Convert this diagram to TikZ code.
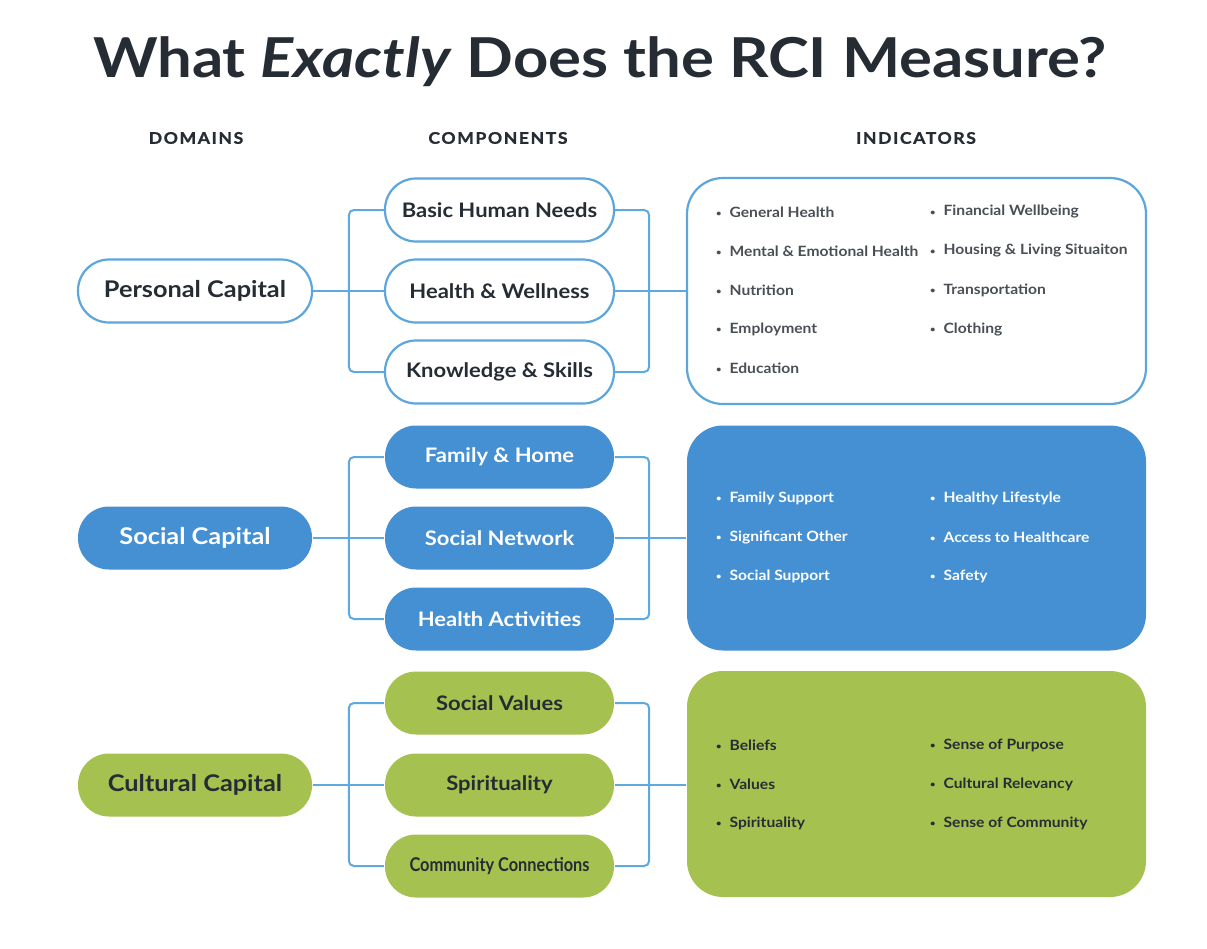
\documentclass[tikz,border=0pt]{standalone}
\usepackage{fontspec}
\setmainfont{Lato}[FakeStretch=1.1]
\newfontfamily\titlefont{Lato}[FakeStretch=1.12]
\newfontfamily\hdrfont{Lato}[LetterSpace=10,FakeStretch=1.1,FakeBold=1.2]
\newfontfamily\condfont{Lato}[FakeStretch=0.86]
\usetikzlibrary{positioning}
\definecolor{ink}{HTML}{262C33}
\definecolor{lblue}{HTML}{5BA6DC}
\definecolor{sblue}{HTML}{4590D3}
\definecolor{cgreen}{HTML}{A5C250}
\definecolor{conn}{HTML}{5EA9E0}
\definecolor{itxt}{HTML}{4A4F55}
\tikzset{
  pill/.style={rectangle, rounded corners=31pt, minimum height=63pt, inner sep=0pt, line width=2.2pt, font=\bfseries},
  dom/.style={pill, minimum width=234pt, font=\fontsize{23}{26}\selectfont\bfseries},
  comp/.style={pill, minimum width=229pt, font=\fontsize{20}{24}\selectfont\bfseries},
  pers/.style={draw=lblue, fill=white, text=ink},
  soc/.style={fill=sblue, text=white},
  cult/.style={fill=cgreen, text=ink},
  indbox/.style={rectangle, rounded corners=36pt, minimum width=459pt, inner sep=0pt, line width=2.2pt},
  item/.style={anchor=west, inner sep=0pt, font=\fontsize{14.2}{17}\selectfont\bfseries},
  hdr/.style={font=\hdrfont\fontsize{16}{18}\selectfont\bfseries, text=ink},
  cline/.style={draw=conn, line width=2pt},
  brk/.style={cline, rounded corners=5pt},
}
\newcommand{\bul}{\raisebox{0.5pt}{\scalebox{0.6}{\textbullet}}\hspace{8pt}}
\begin{document}
\begin{tikzpicture}[x=1pt,y=-1pt]
\useasboundingbox (0,0) rectangle (1207,948);
\fill[white] (0,0) rectangle (1207,948);
% title
\node[font=\titlefont\fontsize{55}{62}\selectfont\bfseries, text=ink] (title) at (600,62) {What \textit{Exactly} Does the RCI Measure?};
\node[hdr] (hd) at (196,138) {DOMAINS};
\node[hdr] (hc) at (498,138) {COMPONENTS};
\node[hdr] (hi) at (916,138) {INDICATORS};
% personal
\node[dom,pers] (pc) at (195,291) {Personal Capital};
\node[comp,pers] (c1) at (499.5,210) {Basic Human Needs};
\node[comp,pers] (c2) at (499.5,291) {Health \& Wellness};
\node[comp,pers] (c3) at (499.5,372) {Knowledge \& Skills};
\node[indbox,draw=lblue,fill=white,minimum height=226pt] (i1) at (916.5,291) {};
% social
\node[dom,soc] (sc) at (195,538) {Social Capital};
\node[comp,soc] (c4) at (499.5,457) {Family \& Home};
\node[comp,soc] (c5) at (499.5,538) {Social Network};
\node[comp,soc] (c6) at (499.5,619) {Health Activities};
\node[indbox,fill=sblue,minimum height=225pt] (i2) at (916.5,538) {};
% cultural
\node[dom,cult] (cc) at (195,785) {Cultural Capital};
\node[comp,cult] (c7) at (499.5,703) {Social Values};
\node[comp,cult] (c8) at (499.5,785) {Spirituality};
\node[comp,cult,font=\condfont\fontsize{19}{22}\selectfont\bfseries] (c9) at (499.5,866) {Community Connections};
\node[indbox,fill=cgreen,minimum height=226pt] (i3) at (916.5,784) {};
% connectors
\foreach \d/\a/\b/\c/\i in {pc/c1/c2/c3/i1, sc/c4/c5/c6/i2, cc/c7/c8/c9/i3}{
  \draw[cline] (\d.east) -- (\b.west);
  \draw[brk] (\a.west) -- ([xshift=-35pt]\a.west) |- (\c.west);
  \draw[cline] (\b.east) -- (\i.west |- \b.east);
  \draw[brk] (\a.east) -- ([xshift=34pt]\a.east) |- (\c.east);
}
% indicators personal
\begin{scope}[every node/.style={item, text=itxt}]
\node (p1) at (716,212) {\bul General Health};
\node (p2) at (716,251) {\bul Mental \& Emotional Health};
\node (p3) at (716,290) {\bul Nutrition};
\node (p4) at (716,329) {\bul Employment};
\node (p5) at (716,368) {\bul Education};
\node (p6) at (930,212) {\bul Financial Wellbeing};
\node (p7) at (930,251) {\bul Housing \& Living Situaiton};
\node (p8) at (930,290) {\bul Transportation};
\node (p9) at (930,329) {\bul Clothing};
\end{scope}
\begin{scope}[every node/.style={item, text=white}]
\node (s1) at (716,498) {\bul Family Support};
\node (s2) at (716,537) {\bul Significant Other};
\node (s3) at (716,576) {\bul Social Support};
\node (s4) at (930,498) {\bul Healthy Lifestyle};
\node (s5) at (930,537) {\bul Access to Healthcare};
\node (s6) at (930,576) {\bul Safety};
\end{scope}
\begin{scope}[every node/.style={item, text=ink}]
\node (g1) at (716,745) {\bul Beliefs};
\node (g2) at (716,784) {\bul Values};
\node (g3) at (716,823) {\bul Spirituality};
\node (g4) at (930,745) {\bul Sense of Purpose};
\node (g5) at (930,784) {\bul Cultural Relevancy};
\node (g6) at (930,823) {\bul Sense of Community};
\end{scope}
\end{tikzpicture}
\end{document}
